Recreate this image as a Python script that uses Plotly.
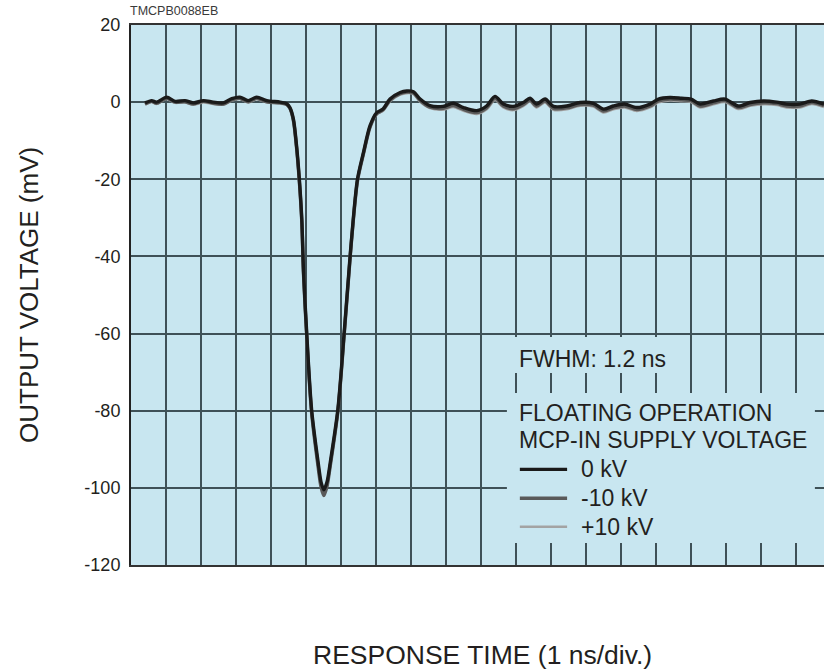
import plotly.graph_objects as go

# ---- data (time in ns, 1 ns/div; voltage in mV) ----
time_ns = [0.40, 0.59, 0.73, 1.02, 1.26, 1.54, 1.78, 2.07, 2.35, 2.64, 2.88, 3.11, 3.35, 3.59, 3.88,
           4.26, 4.45, 4.54, 4.64, 4.73, 4.81, 4.88, 4.93, 5.02, 5.16, 5.35, 5.43, 5.51, 5.60, 5.69,
           5.91, 6.09, 6.23, 6.30, 6.47, 6.64, 6.83, 7.02, 7.20, 7.40, 7.69, 7.88, 8.07, 8.26, 8.54,
           8.92, 9.21, 9.50, 9.88, 10.16, 10.40, 10.64, 10.92, 11.21, 11.40, 11.59, 11.83, 12.07, 12.45,
           12.83, 13.21, 13.50, 13.78, 14.10, 14.45, 14.83, 15.07, 15.40, 15.73, 16.00, 16.26, 16.64,
           16.97, 17.35, 17.69, 18.07, 18.45, 18.73, 19.11, 19.45, 19.80]

v_0kV = [-0.2, 0.4, 0.0, 1.3, 0.2, 0.4, -0.2, 0.4, 0.0, -0.2, 0.9, 1.3, 0.4, 1.3, 0.4,
         0.0, -0.4, -1.4, -4.4, -11.3, -20.0, -30.4, -44.0, -59.8, -79.7, -93.6, -98.5, -100.5, -98.5, -93.6,
         -79.7, -59.8, -43.4, -35.6, -20.0, -13.1, -6.1, -2.7, -1.8, 0.8, 2.5, 2.9, 2.7, 0.8, -0.9,
         -1.1, -0.3, -1.4, -2.2, -1.0, 1.5, -0.5, -1.1, -0.1, 1.0, -0.5, 0.8, -1.1, -1.0,
         -0.1, -0.3, -1.8, -1.0, -0.5, -1.4, -0.5, 0.8, 1.2, 1.0, 0.8, -0.5, 0.3,
         0.8, -1.0, -0.1, 0.3, 0.0, -0.5, -0.5, 0.3, -0.5]

v_m10kV = [-0.5, 0.2, -0.3, 1.0, 0.0, 0.1, -0.5, 0.2, -0.3, -0.5, 0.6, 1.0, 0.1, 1.0, 0.1,
           -0.2, -0.6, -1.6, -4.8, -11.8, -20.6, -31.0, -44.8, -60.6, -80.5, -94.8, -99.8, -102.0, -99.6, -94.5,
           -80.3, -60.4, -44.0, -36.0, -20.5, -13.5, -6.5, -3.0, -2.0, 0.5, 2.2, 2.6, 2.4, 0.4, -1.3,
           -1.6, -0.9, -1.9, -2.7, -1.5, 1.0, -1.0, -1.7, -0.6, 0.5, -1.0, 0.3, -1.6, -1.5,
           -0.6, -0.8, -2.3, -1.5, -1.0, -1.9, -1.0, 0.3, 0.8, 0.6, 0.4, -1.0, -0.2,
           0.4, -1.4, -0.6, -0.2, -0.4, -1.0, -1.0, -0.1, -0.9]

v_p10kV = [-0.6, 0.1, -0.4, 0.9, -0.1, 0.0, -0.6, 0.0, -0.4, -0.6, 0.5, 0.9, 0.0, 0.8, 0.0,
           -0.3, -0.7, -1.7, -4.6, -11.6, -20.3, -30.8, -44.5, -60.3, -80.2, -94.4, -99.5, -101.6, -99.3, -94.2,
           -80.0, -60.1, -43.7, -35.8, -20.3, -13.4, -6.4, -3.1, -2.2, 0.3, 2.0, 2.4, 2.2, 0.2, -1.5,
           -1.9, -1.2, -2.2, -3.0, -1.8, 0.6, -1.3, -2.0, -0.9, 0.2, -1.3, 0.0, -1.9, -1.8,
           -0.9, -1.1, -2.6, -1.8, -1.3, -2.2, -1.3, 0.0, 0.5, 0.3, 0.1, -1.3, -0.5,
           0.1, -1.7, -0.9, -0.5, -0.7, -1.3, -1.3, -0.4, -1.2]

series_names = ["0 kV", "-10 kV", "+10 kV"]
y_ticks = [20, 0, -20, -40, -60, -80, -100, -120]

BG = "#c8e6f0"
GRID = "#3f5157"
TXT = "#231f20"
FONT = "Liberation Sans, Arial, sans-serif"
colors = {"0 kV": "#1a1a1a", "-10 kV": "#5a5a5a", "+10 kV": "#a3a3a3"}
widths = {"0 kV": 3.4, "-10 kV": 3.4, "+10 kV": 3.0}
TEXT_SIZE = 23

fig = go.Figure()
for name, vals in [("+10 kV", v_p10kV), ("-10 kV", v_m10kV), ("0 kV", v_0kV)]:
    fig.add_trace(go.Scatter(
        x=time_ns, y=vals, mode="lines", name=name, showlegend=False,
        line=dict(color=colors[name], width=widths[name], shape="spline", smoothing=0.8),
    ))

# masks over gridlines behind the annotation texts
fig.add_shape(type="rect", xref="x", yref="y", x0=10.74, x1=15.4, y0=-60.9, y1=-70.2,
              fillcolor=BG, line=dict(width=0), layer="between")
fig.add_shape(type="rect", xref="x", yref="y", x0=10.74, x1=19.54, y0=-75.4, y1=-114.3,
              fillcolor=BG, line=dict(width=0), layer="between")

# legend-like key
key_y = [-95.2, -102.7, -110.1]
for name, yy in zip(series_names, key_y):
    fig.add_shape(type="line", xref="x", yref="y", x0=11.11, x1=12.46, y0=yy, y1=yy,
                  line=dict(color=colors[name], width=widths[name] if name != "+10 kV" else 2.6),
                  layer="above")
    fig.add_annotation(x=12.8, y=yy, xref="x", yref="y", text=name, showarrow=False,
                       xanchor="left", yanchor="middle", font=dict(size=TEXT_SIZE, color=TXT, family=FONT))

fig.add_annotation(x=11.03, y=-66.6, xref="x", yref="y", text="FWHM: 1.2 ns", showarrow=False,
                   xanchor="left", yanchor="middle", font=dict(size=TEXT_SIZE, color=TXT, family=FONT))
fig.add_annotation(x=11.03, y=-80.6, xref="x", yref="y", text="FLOATING OPERATION", showarrow=False,
                   xanchor="left", yanchor="middle", font=dict(size=TEXT_SIZE, color=TXT, family=FONT))
fig.add_annotation(x=11.03, y=-87.6, xref="x", yref="y", text="MCP-IN SUPPLY VOLTAGE", showarrow=False,
                   xanchor="left", yanchor="middle", font=dict(size=TEXT_SIZE, color=TXT, family=FONT))

# figure code
fig.add_annotation(x=0, y=1, xref="paper", yref="paper", text="TMCPB0088EB", showarrow=False,
                   xanchor="left", yanchor="bottom", yshift=5, xshift=-3,
                   font=dict(size=12.5, color="#3a3a3a", family=FONT))

# axis titles
fig.add_annotation(x=0.5065, y=0, xref="paper", yref="paper", text="RESPONSE TIME (1 ns/div.)",
                   showarrow=False, xanchor="center", yanchor="middle", yshift=-90,
                   font=dict(size=26.5, color=TXT, family=FONT))
fig.add_annotation(x=0, y=0.5, xref="paper", yref="paper", text="OUTPUT VOLTAGE (mV)",
                   showarrow=False, xanchor="center", yanchor="middle", xshift=-102, textangle=-90,
                   font=dict(size=26, color=TXT, family=FONT))

fig.update_layout(
    width=824, height=670,
    margin=dict(l=131, r=0, t=25, b=105),
    paper_bgcolor="white", plot_bgcolor=BG,
    font=dict(family=FONT, color=TXT),
    xaxis=dict(range=[0, 19.8], dtick=1, tick0=0, showticklabels=False, ticks="",
               showgrid=True, gridcolor=GRID, gridwidth=2, zeroline=False,
               showline=True, linecolor="#333333", linewidth=2, mirror=True),
    yaxis=dict(range=[-120, 20], tickvals=y_ticks, ticktext=[str(v) for v in y_ticks],
               ticks="", ticklabelstandoff=5,
               tickfont=dict(size=18, color=TXT, family=FONT),
               showgrid=True, gridcolor=GRID, gridwidth=2, zeroline=False,
               showline=True, linecolor="#222222", linewidth=2),
)

fig.write_html("out.html")
